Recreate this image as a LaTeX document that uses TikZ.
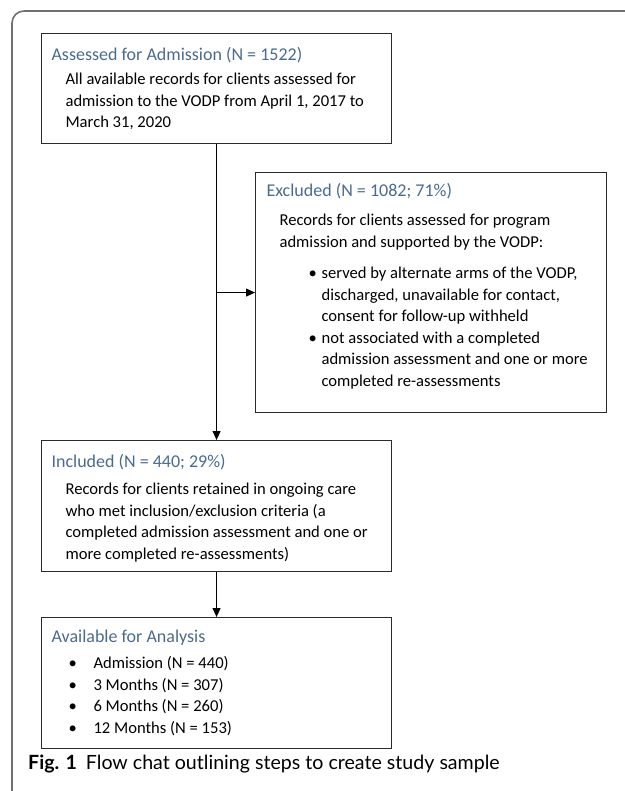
\documentclass[tikz,border=0pt]{standalone}
\usepackage{fontspec}
\setmainfont{Carlito}
\newfontfamily\capfont{Lato}
\usetikzlibrary{arrows.meta}
\definecolor{Slate}{HTML}{4A6B8F}
\definecolor{Edge}{HTML}{2B2B2B}
\definecolor{Frame}{HTML}{707070}
\newcommand{\headfont}{\fontsize{18}{21.5}\selectfont\color{Slate}}
\newcommand{\bodyfont}{\fontsize{16.6}{21.5}\selectfont\color{black}}
\newcommand{\bpoint}[1]{\leavevmode\llap{\makebox[#1][l]{\textbullet}}}

\begin{document}
\begin{tikzpicture}[x=1pt,y=-1pt,>={Triangle[length=9pt,width=8pt]},
    stage/.style={draw=Edge,line width=1.1pt,anchor=north west,inner sep=0pt},
    link/.style={line width=1.1pt,->}]
  \useasboundingbox (0,0) rectangle (624,791);
  % outer frame
  \draw[Frame,line width=1.6pt,rounded corners=12pt] (12,800) -- (12,11) -- (640,11);
  \node[stage] (assessed) at (41,33) {\parbox[c][110pt][t]{350pt}{\raggedright
      \leftskip=10pt\headfont\rule{0pt}{27pt}Assessed for Admission (N = 1522)\par
      \vspace{2.5pt}\leftskip=24pt\bodyfont All available records for clients assessed for\\
      admission to the VODP from April 1, 2017 to\\
      March 31, 2020\par}};
  \node[stage] (excluded) at (255,172) {\parbox[c][240pt][t]{351pt}{\raggedright
      \leftskip=11pt\headfont\rule{0pt}{24pt}Excluded (N = 1082; 71\%)\par
      \vspace{7.5pt}\leftskip=24pt\bodyfont Records for clients assessed for program\\
      admission and supported by the VODP:\par
      \vspace{10pt}\leftskip=66pt
      \bpoint{13pt}served by alternate arms of the VODP,\\
      discharged, unavailable for contact,\\
      consent for follow-up withheld\par
      \bpoint{13pt}not associated with a completed\\
      admission assessment and one or more\\
      completed re-assessments\par}};
  \node[stage] (included) at (41,440) {\parbox[c][131pt][t]{350pt}{\raggedright
      \leftskip=10pt\headfont\rule{0pt}{27pt}Included (N = 440; 29\%)\par
      \vspace{5.5pt}\leftskip=24pt\bodyfont Records for clients retained in ongoing care\\
      who met inclusion/exclusion criteria (a\\
      completed admission assessment and one or\\
      more completed re-assessments)\par}};
  \node[stage] (available) at (41,617) {\parbox[c][131pt][t]{350pt}{\raggedright
      \leftskip=10pt\headfont\rule{0pt}{25pt}Available for Analysis\par
      \vspace{4.5pt}\leftskip=52pt\bodyfont
      \bpoint{25pt}Admission (N = 440)\par
      \bpoint{25pt}3 Months (N = 307)\par
      \bpoint{25pt}6 Months (N = 260)\par
      \bpoint{25pt}12 Months (N = 153)\par}};
  \coordinate (branch) at (assessed.south |- excluded.west);
  \draw[link] (assessed.south) -- (included.north);
  \draw[link] (branch) -- (excluded.west);
  \draw[link] (included.south) -- (available.north);
  \node[anchor=base west,inner sep=0pt] (caption) at (28,769)
    {\capfont\fontsize{19.6}{22}\selectfont\textbf{Fig. 1}\hspace{9pt}Flow chat outlining steps to create study sample};
\end{tikzpicture}
\end{document}
